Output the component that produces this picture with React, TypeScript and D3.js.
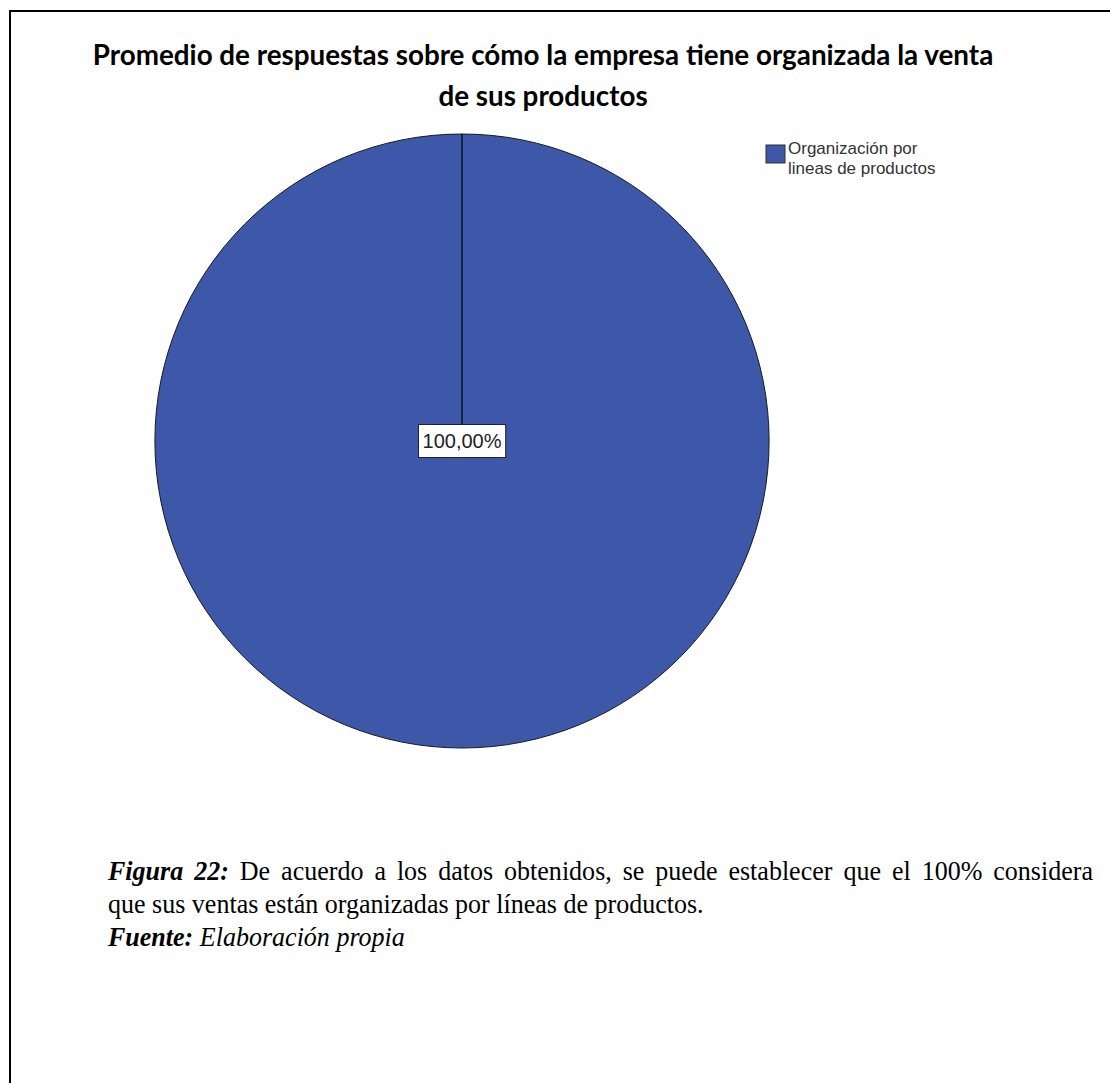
import React, { useEffect, useRef } from 'react';
import * as d3 from 'd3';

const title = [
  'Promedio de respuestas sobre cómo la empresa tiene organizada la venta',
  'de sus productos',
];
const categories = ['Organización por lineas de productos'];
const legendLines = [['Organización por', 'lineas de productos']];
const values = [100];
const colors = ['#3d57a9'];
const captionLabel = 'Figura 22:';
const captionLine1 = ' De acuerdo a los datos obtenidos, se puede establecer que el 100% considera';
const captionLine2 = 'que sus ventas están organizadas por líneas de productos.';
const sourceLabel = 'Fuente:';
const sourceText = ' Elaboración propia';

const W = 1110;
const H = 1083;

const esLocale = d3.formatLocale({
  decimal: ',',
  thousands: '.',
  grouping: [3],
  currency: ['', '€'],
});
const fmtPct = esLocale.format('.2f');

export default function App() {
  const svgRef = useRef<SVGSVGElement>(null);

  useEffect(() => {
    if (!svgRef.current) return;
    const svg = d3.select(svgRef.current);
    svg.selectAll('*').remove();

    // frame (only top and left edges are visible in the page crop)
    svg.append('line')
      .attr('x1', 9).attr('x2', W).attr('y1', 11).attr('y2', 11)
      .attr('stroke', '#000').attr('stroke-width', 2);
    svg.append('line')
      .attr('x1', 10).attr('x2', 10).attr('y1', 10).attr('y2', H)
      .attr('stroke', '#000').attr('stroke-width', 2);

    // title
    svg.append('text')
      .attr('x', 543)
      .attr('y', 65)
      .attr('text-anchor', 'middle')
      .style('font-family', 'Lato, sans-serif')
      .style('font-weight', 'bold')
      .style('font-size', '27.8px')
      .style('fill', '#000')
      .selectAll('tspan')
      .data(title)
      .enter()
      .append('tspan')
      .attr('x', 543)
      .attr('dy', (d, i) => (i === 0 ? 0 : 41))
      .text(d => d);

    // pie
    const cx = 462;
    const cy = 441;
    const radius = 307;
    const total = d3.sum(values);
    const pie = d3.pie<number>().sort(null).value(d => d);
    const arcs = pie(values);
    const arc = d3.arc<d3.PieArcDatum<number>>().innerRadius(0).outerRadius(radius);

    const g = svg.append('g').attr('transform', `translate(${cx},${cy})`);

    g.selectAll('path.slice')
      .data(arcs)
      .enter()
      .append('path')
      .attr('class', 'slice')
      .attr('d', arc)
      .attr('fill', (d, i) => colors[i])
      .attr('stroke', '#1a1a1a')
      .attr('stroke-width', 1);

    // slice boundaries
    arcs.forEach(a => {
      const [x, y] = d3.pointRadial(a.startAngle, radius);
      g.append('line')
        .attr('x1', 0).attr('y1', 0)
        .attr('x2', x).attr('y2', y)
        .attr('stroke', '#000')
        .attr('stroke-width', 1.2);
    });

    // value labels
    arcs.forEach(a => {
      const pos = arcs.length === 1 ? [0, 0] : arc.centroid(a);
      const label = `${fmtPct((a.data / total) * 100)}%`;
      const lg = g.append('g').attr('transform', `translate(${pos[0]},${pos[1]})`);
      const t = lg.append('text')
        .attr('text-anchor', 'middle')
        .attr('y', 7)
        .style('font-family', '"Liberation Sans", Arial, sans-serif')
        .style('font-size', '20px')
        .style('fill', '#222')
        .text(label);
      const bb = (t.node() as SVGTextElement).getBBox();
      lg.insert('rect', 'text')
        .attr('x', bb.x - 4)
        .attr('y', -16.5)
        .attr('width', bb.width + 8)
        .attr('height', 33)
        .attr('fill', '#fff')
        .attr('stroke', '#222')
        .attr('stroke-width', 1);
    });

    // legend
    const legend = svg.append('g').attr('transform', 'translate(766,145)');
    categories.forEach((c, i) => {
      const item = legend.append('g').attr('transform', `translate(0,${i * 40})`);
      item.append('rect')
        .attr('x', 0).attr('y', 0)
        .attr('width', 19).attr('height', 18)
        .attr('fill', colors[i])
        .attr('stroke', '#333')
        .attr('stroke-width', 1);
      item.append('text')
        .style('font-family', '"Liberation Sans", Arial, sans-serif')
        .style('font-size', '17px')
        .style('fill', '#333')
        .selectAll('tspan')
        .data(legendLines[i])
        .enter()
        .append('tspan')
        .attr('x', 22)
        .attr('y', (d, j) => 9 + j * 20)
        .text(d => d);
    });

    // caption (slightly condensed serif, line 1 justified)
    const serif = '"Liberation Serif", "Times New Roman", serif';
    const capX = 108;
    const capRight = 1093;
    const sx = 0.93;
    const fs = '28px';
    const cap = svg.append('g').attr('transform', `translate(${capX},0) scale(${sx},1)`);
    const l1 = cap.append('text')
      .attr('x', 0)
      .attr('y', 880)
      .style('font-family', serif)
      .style('font-size', fs)
      .style('fill', '#000');
    l1.append('tspan')
      .style('font-weight', 'bold')
      .style('font-style', 'italic')
      .text(captionLabel);
    l1.append('tspan').text(captionLine1);
    const natural = (l1.node() as SVGTextElement).getComputedTextLength();
    const spaces = (captionLabel + captionLine1).split(' ').length - 1;
    l1.style('word-spacing', `${Math.max(0, ((capRight - capX) / sx - natural) / spaces)}px`);

    cap.append('text')
      .attr('x', 0)
      .attr('y', 913)
      .style('font-family', serif)
      .style('font-size', fs)
      .style('fill', '#000')
      .text(captionLine2);

    const l3 = cap.append('text')
      .attr('x', 0)
      .attr('y', 946)
      .style('font-family', serif)
      .style('font-size', fs)
      .style('font-style', 'italic')
      .style('fill', '#000');
    l3.append('tspan').style('font-weight', 'bold').text(sourceLabel);
    l3.append('tspan').text(sourceText);
  }, []);

  return (
    <div style={{ position: 'absolute', left: 0, top: 0, width: W, height: H, background: '#fff' }}>
      <svg ref={svgRef} width={W} height={H}></svg>
    </div>
  );
}
